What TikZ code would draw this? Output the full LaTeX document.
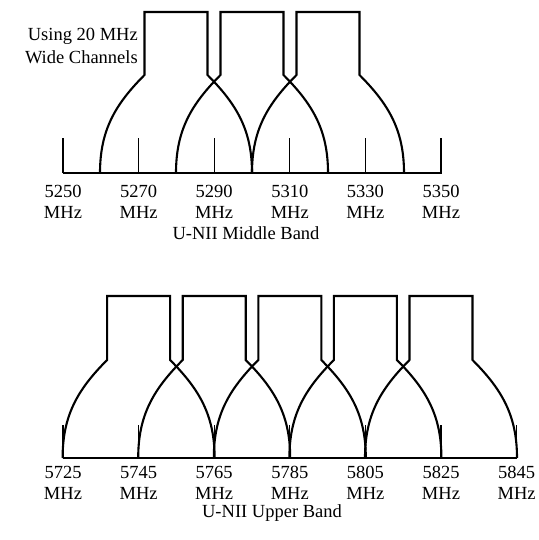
\documentclass[tikz,border=0pt]{standalone}
\usepackage{fontspec}
\setmainfont{Liberation Serif}
\begin{document}
\begin{tikzpicture}[x=1pt,y=-1pt,
  chan/.style={line width=2.1pt, line join=miter},
  axisline/.style={line width=1.6pt},
  tickline/.style={line width=1.2pt},
  lbl/.style={font=\fontsize{18.5}{20}\selectfont, inner sep=0pt}]
\useasboundingbox (0,0) rectangle (538,540);
% channel macro
\def\channel#1#2#3#4{% center, top, shoulder, bottom
  \draw[chan] ({#1-76},#4) to[out=90,in=-135] ({#1-31.5},#3) -- ({#1-31.5},#2)
     -- ({#1+31.5},#2) -- ({#1+31.5},#3) to[out=-45,in=90] ({#1+76},#4);}
% ---------------- Middle band
\draw[axisline] (63,173) -- (442,173);
\foreach \i/\f in {0/5250,1/5270,2/5290,3/5310,4/5330,5/5350}{
  \pgfmathsetmacro\xx{63+75.6*\i}
  \draw[tickline] (\xx,173) -- (\xx,138);
  \node[lbl] (m\i) at (\xx,191) {\f};
  \node[lbl] (mu\i) at (\xx,212) {MHz};
}
\foreach \c in {176,252,328}{\channel{\c}{12}{75}{173}}
\node[lbl] (mband) at (246,233) {U-NII Middle Band};
\node[lbl, align=right, anchor=east] (using) at (138,46) {Using 20 MHz\\[3pt]Wide Channels};
% ---------------- Upper band
\draw[axisline] (63,458) -- (517,458);
\foreach \i/\f in {0/5725,1/5745,2/5765,3/5785,4/5805,5/5825,6/5845}{
  \pgfmathsetmacro\xx{63+75.6*\i}
  \draw[tickline] (\xx,458) -- (\xx,425);
  \node[lbl] (u\i) at (\xx,472) {\f};
  \node[lbl] (uu\i) at (\xx,493) {MHz};
}
\foreach \c in {138.6,214.2,289.8,365.4,441}{\channel{\c}{296}{360}{458}}
\node[lbl] (uband) at (272,513) {U-NII Upper Band};
\end{tikzpicture}
\end{document}
